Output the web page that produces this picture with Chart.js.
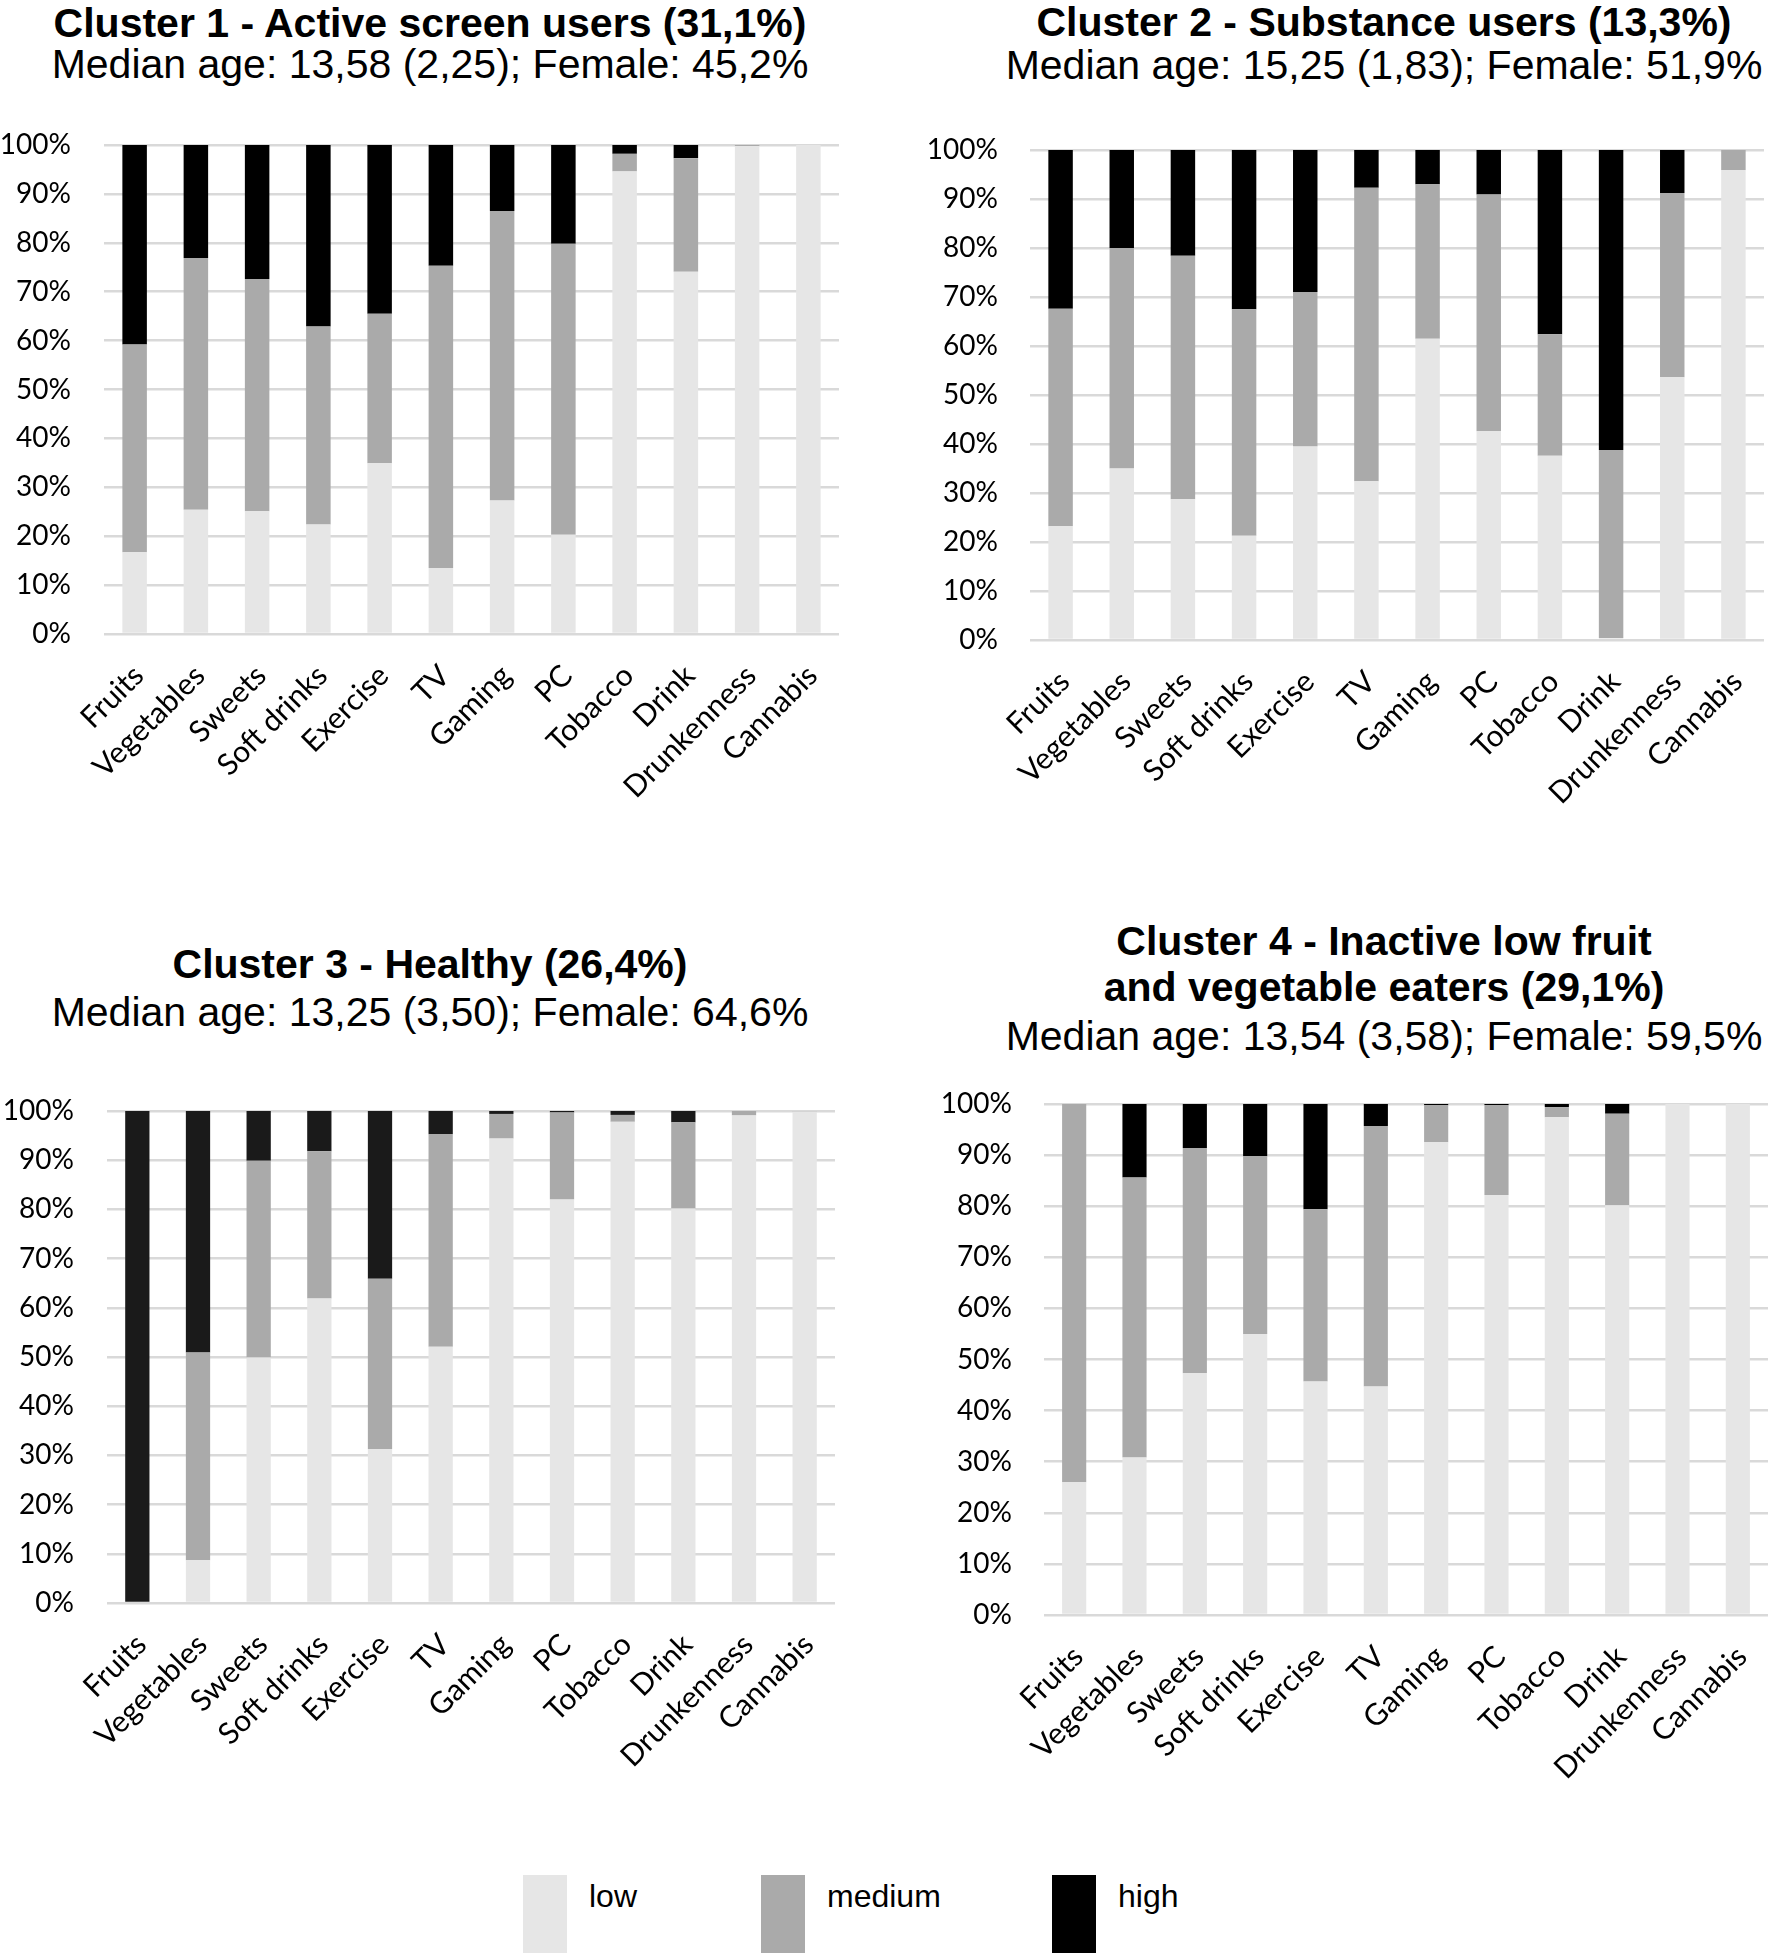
<!DOCTYPE html>
<html>
<head>
<meta charset="utf-8">
<script src="https://cdn.jsdelivr.net/npm/chart.js@4"></script>
<style>
    html, body { margin: 0; padding: 0; background: #fff; }
    body { position: relative; width: 1772px; height: 1953px; overflow: hidden; font-family: "Liberation Sans", Arial, sans-serif; }
    .title, .sub { position: absolute; white-space: nowrap; transform: translateX(-50%); font-size: 41px; line-height: 41px; color: #000; }
    .title { font-weight: bold; }
    canvas { position: absolute; }
    .legend-box { position: absolute; width: 44px; }
    .legend-text { position: absolute; font-size: 32px; line-height: 32px; color: #000; }
</style>
</head>
<body>
<div id="page"></div>
<script>
// Categories and series names
const categories = ['Fruits', 'Vegetables', 'Sweets', 'Soft drinks', 'Exercise', 'TV', 'Gaming', 'PC', 'Tobacco', 'Drink', 'Drunkenness', 'Cannabis'];
const seriesNames = ['low', 'medium', 'high'];
const yTicks = [0, 10, 20, 30, 40, 50, 60, 70, 80, 90, 100];

// Cluster 1 - Active screen users
const c1Low    = [16.7, 25.4, 25.1, 22.4, 34.9, 13.5, 27.3, 20.3, 94.6, 74.1, 99.8, 100];
const c1Medium = [42.5, 51.5, 47.5, 40.5, 30.6, 61.8, 59.2, 59.5, 3.6, 23.2, 0.2, 0];
const c1High   = [40.8, 23.1, 27.4, 37.1, 34.5, 24.7, 13.5, 20.2, 1.8, 2.7, 0, 0];

// Cluster 2 - Substance users
const c2Low    = [23.2, 35.0, 28.7, 21.3, 39.5, 32.4, 61.5, 42.6, 37.6, 0.4, 53.6, 95.9];
const c2Medium = [44.4, 45.0, 49.7, 46.2, 31.5, 59.9, 31.5, 48.3, 24.8, 38.4, 37.6, 4.1];
const c2High   = [32.4, 20.0, 21.6, 32.5, 29.0, 7.7, 7.0, 9.1, 37.6, 61.2, 8.8, 0];

// Cluster 3 - Healthy
const c3Low    = [0, 8.7, 49.9, 61.9, 31.3, 52.1, 94.4, 82.0, 97.8, 80.2, 99.1, 99.9];
const c3Medium = [0, 42.2, 40.0, 29.9, 34.6, 43.2, 5.0, 17.7, 1.4, 17.5, 0.9, 0.1];
const c3High   = [100, 49.1, 10.1, 8.2, 34.1, 4.7, 0.6, 0.3, 0.8, 2.3, 0, 0];

// Cluster 4 - Inactive low fruit and vegetable eaters
const c4Low    = [26.0, 30.8, 47.3, 55.0, 45.7, 44.7, 92.5, 82.2, 97.4, 80.2, 100, 100];
const c4Medium = [74.0, 54.8, 44.1, 34.8, 33.7, 51.0, 7.3, 17.6, 2.0, 17.9, 0, 0];
const c4High   = [0, 14.4, 8.6, 10.2, 20.6, 4.3, 0.2, 0.2, 0.6, 1.9, 0, 0];

const colors = ['#e6e6e6', '#aaaaaa', '#000000'];

const panels = [
    { titles: ['Cluster 1 - Active screen users (31,1%)'], sub: 'Median age: 13,58 (2,25); Female: 45,2%',
      tx: 430, ty: [23], sy: 64, data: [c1Low, c1Medium, c1High], high: '#000000',
      area: { l: 104, r: 839, t: 145, b: 634 }, pad: 33 },
    { titles: ['Cluster 2 - Substance users (13,3%)'], sub: 'Median age: 15,25 (1,83); Female: 51,9%',
      tx: 1384, ty: [22], sy: 65, data: [c2Low, c2Medium, c2High], high: '#000000',
      area: { l: 1030, r: 1764, t: 150, b: 640 }, pad: 32 },
    { titles: ['Cluster 3 - Healthy (26,4%)'], sub: 'Median age: 13,25 (3,50); Female: 64,6%',
      tx: 430, ty: [964], sy: 1012, data: [c3Low, c3Medium, c3High], high: '#1a1a1a',
      area: { l: 107, r: 835, t: 1111, b: 1603 }, pad: 33 },
    { titles: ['Cluster 4 - Inactive low fruit', 'and vegetable eaters (29,1%)'], sub: 'Median age: 13,54 (3,58); Female: 59,5%',
      tx: 1384, ty: [941, 987], sy: 1036, data: [c4Low, c4Medium, c4High], high: '#000000',
      area: { l: 1044, r: 1768, t: 1104, b: 1615 }, pad: 32 }
];

const page = document.getElementById('page');
const Y_AXIS_W = 104;
const X_AXIS_H = 200;
const TOP_PAD = 24;

const addDiv = (cls, text, left, top) => {
    const el = document.createElement('div');
    el.className = cls;
    el.textContent = text;
    el.style.left = left + 'px';
    el.style.top = top + 'px';
    page.appendChild(el);
    return el;
};

panels.forEach(p => {
    // Titles (cap centre sits ~20px below the top of a 41px line)
    p.titles.forEach((t, i) => addDiv('title', t, p.tx, p.ty[i] - 20));
    addDiv('sub', p.sub, p.tx, p.sy - 20);

    const canvas = document.createElement('canvas');
    const left = p.area.l - Y_AXIS_W;
    const width = p.area.r - left;
    const height = TOP_PAD + (p.area.b - p.area.t) + X_AXIS_H;
    canvas.width = width;
    canvas.height = height;
    canvas.style.left = left + 'px';
    canvas.style.top = (p.area.t - TOP_PAD) + 'px';
    page.appendChild(canvas);

    const fills = [colors[0], colors[1], p.high];

    new Chart(canvas, {
        type: 'bar',
        data: {
            labels: categories,
            datasets: seriesNames.map((name, i) => ({
                label: name,
                data: p.data[i],
                backgroundColor: fills[i],
                borderWidth: 0,
                categoryPercentage: 1,
                barPercentage: 0.4
            }))
        },
        options: {
            responsive: false,
            animation: false,
            devicePixelRatio: 1,
            layout: { padding: { top: TOP_PAD, left: 0, right: 0, bottom: 0 } },
            plugins: {
                legend: { display: false },
                tooltip: { enabled: false },
                title: { display: false }
            },
            scales: {
                x: {
                    stacked: true,
                    grid: { display: false, drawTicks: false },
                    border: { display: false },
                    ticks: {
                        color: '#000',
                        font: { family: 'Lato', size: 30 },
                        maxRotation: 45,
                        minRotation: 45,
                        autoSkip: false,
                        padding: 24,
                        labelOffset: 4
                    },
                    afterFit: scale => {
                        scale.height = X_AXIS_H;
                        // rotated labels need no extra room at the sides
                        scale.paddingLeft = 0;
                        scale.paddingRight = 0;
                    }
                },
                y: {
                    stacked: true,
                    min: 0,
                    max: 100,
                    afterBuildTicks: scale => { scale.ticks = yTicks.map(v => ({ value: v })); },
                    grid: { color: '#d9d9d9', lineWidth: 2.5, drawTicks: false },
                    border: { display: false },
                    ticks: {
                        color: '#000',
                        font: { family: 'Lato', size: 28 },
                        padding: p.pad,
                        callback: v => v + '%'
                    },
                    afterFit: scale => {
                        scale.width = Y_AXIS_W;
                        // keep the plot top where the reference has it
                        scale.paddingTop = 0;
                        scale.paddingBottom = 0;
                    }
                }
            }
        }
    });
});

// Legend below the four panels
const legendX = [523, 761, 1052];
seriesNames.forEach((name, i) => {
    const box = document.createElement('div');
    box.className = 'legend-box';
    box.style.left = legendX[i] + 'px';
    box.style.top = '1875px';
    box.style.height = '90px';
    box.style.background = colors[i];
    page.appendChild(box);
    addDiv('legend-text', name, legendX[i] + 66, 1880);
});
</script>
</body>
</html>
